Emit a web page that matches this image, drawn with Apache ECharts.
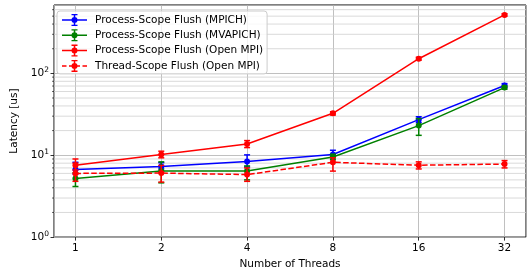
<!DOCTYPE html>
<html>
<head>
<meta charset="utf-8">
<script src="https://cdn.jsdelivr.net/npm/echarts@6/dist/echarts.min.js"></script>
<style>
html, body { margin: 0; padding: 0; background: #fff; }
#chart { width: 531px; height: 275px; }
</style>
</head>
<body>
<div id="chart"></div>
<script>
// data
var threads = [1, 2, 4, 8, 16, 32];

var mpich     = [6.7, 7.3, 8.4, 10.2, 27.2, 71];
var mpichLow  = [5.9, 6.8, 7.2, 9.3, 25.0, 67];
var mpichHigh = [8.2, 8.1, 10.1, 11.5, 29.5, 75];

var mvapich     = [5.2, 6.4, 6.4, 9.5, 23.0, 67];
var mvapichLow  = [4.15, 4.6, 5.0, 8.8, 17.5, 64];
var mvapichHigh = [6.1, 8.3, 7.4, 10.3, 28.0, 70];

var ompiProc     = [7.55, 10.2, 13.7, 32.5, 151, 517];
var ompiProcLow  = [6.6, 9.3, 12.4, 31.0, 145, 500];
var ompiProcHigh = [9.0, 11.2, 15.1, 34.0, 157, 535];

var ompiThread     = [6.0, 6.05, 5.8, 8.2, 7.55, 7.8];
var ompiThreadLow  = [4.8, 4.7, 4.8, 6.4, 6.8, 7.0];
var ompiThreadHigh = [8.0, 7.5, 7.0, 9.3, 8.3, 8.6];

var names = [
    'Process-Scope Flush (MPICH)',
    'Process-Scope Flush (MVAPICH)',
    'Process-Scope Flush (Open MPI)',
    'Thread-Scope Flush (Open MPI)'
];
var colors = ['#0000ff', '#008000', '#ff0000', '#ff0000'];

var yMin = 1, yMax = 684;
var xMin = Math.pow(2, -0.25), xMax = Math.pow(2, 5.25);

// matplotlib style minor grid on the log y axis
var minorTicks = [2, 3, 4, 5, 6, 7, 8, 9, 20, 30, 40, 50, 60, 70, 80, 90, 200, 300, 400, 500, 600];

var font = 'DejaVu Sans';
var fs = 10.5;

// legend glyphs: line + error bar + marker (25 x 12 box)
var barGlyph = 'M11.75 1 H13.25 V11 H11.75 Z M9.5 0 H15.5 V1.3 H9.5 Z M9.5 10.7 H15.5 V12 H9.5 Z ' +
    'M9.5 6 A3 3 0 1 1 15.5 6 A3 3 0 1 1 9.5 6 Z';
var solidIcon = 'path://M0 5.25 H25 V6.75 H0 Z ' + barGlyph;
var dashIcon = 'path://M0 5.25 H4.5 V6.75 H0 Z M7 5.25 H18 V6.75 H7 Z M20.5 5.25 H25 V6.75 H20.5 Z ' + barGlyph;

function pairs(ys) {
    return threads.map(function(t, i) { return [t, ys[i]]; });
}

function bars(lo, hi) {
    return threads.map(function(t, i) { return [t, lo[i], hi[i]]; });
}

function errorBar(color) {
    return function(params, api) {
        var x = api.value(0);
        var lo = api.coord([x, api.value(1)]);
        var hi = api.coord([x, api.value(2)]);
        var cap = 3;
        var st = { stroke: color, lineWidth: 1.5 };
        return {
            type: 'group',
            children: [
                { type: 'line', shape: { x1: lo[0], y1: lo[1], x2: hi[0], y2: hi[1] }, style: st },
                { type: 'line', shape: { x1: lo[0] - cap, y1: lo[1], x2: lo[0] + cap, y2: lo[1] }, style: st },
                { type: 'line', shape: { x1: hi[0] - cap, y1: hi[1], x2: hi[0] + cap, y2: hi[1] }, style: st }
            ]
        };
    };
}

function minorGrid(params, api) {
    var cs = params.coordSys;
    var y = api.coord([threads[0], api.value(1)])[1];
    return {
        type: 'group',
        children: [
            { type: 'line', shape: { x1: cs.x, y1: y, x2: cs.x + cs.width, y2: y },
              style: { stroke: '#d0d0d0', lineWidth: 0.8 } },
            { type: 'line', shape: { x1: cs.x - 2, y1: y, x2: cs.x, y2: y },
              style: { stroke: '#000', lineWidth: 0.6 } }
        ]
    };
}

var series = [{
    type: 'custom',
    name: 'minor',
    renderItem: minorGrid,
    data: minorTicks.map(function(v) { return [threads[0], v]; }),
    encode: { x: 0, y: 1 },
    silent: true,
    z: 0
}];

var lines = [mpich, mvapich, ompiProc, ompiThread];
var lows = [mpichLow, mvapichLow, ompiProcLow, ompiThreadLow];
var highs = [mpichHigh, mvapichHigh, ompiProcHigh, ompiThreadHigh];

lines.forEach(function(ys, k) {
    series.push({
        type: 'line',
        name: names[k],
        data: pairs(ys),
        symbol: 'circle',
        symbolSize: 6,
        showAllSymbol: true,
        itemStyle: { color: colors[k] },
        lineStyle: { color: colors[k], width: 1.5, type: k === 3 ? [5.5, 2.4] : 'solid' },
        z: 3 + k
    });
    series.push({
        type: 'custom',
        name: 'err' + k,
        renderItem: errorBar(colors[k]),
        data: bars(lows[k], highs[k]),
        encode: { x: 0, y: [1, 2] },
        z: 3 + k
    });
});

var chart = echarts.init(document.getElementById('chart'), null, { renderer: 'canvas' });

chart.setOption({
    backgroundColor: '#fff',
    animation: false,
    textStyle: { fontFamily: font },
    grid: {
        left: 54, right: 5, top: 5, bottom: 36,
        show: true, borderColor: '#000', borderWidth: 1, backgroundColor: 'transparent'
    },
    legend: {
        data: names.map(function(n, k) {
            return { name: n, icon: k === 3 ? dashIcon : solidIcon };
        }),
        orient: 'vertical',
        left: 57, top: 11,
        padding: [3, 4, 2, 5],
        itemWidth: 25, itemHeight: 12, itemGap: 3.3,
        itemStyle: { borderWidth: 0 },
        backgroundColor: 'rgba(255,255,255,0.8)',
        borderColor: '#cccccc', borderWidth: 1, borderRadius: 3,
        textStyle: { fontFamily: font, fontSize: fs, color: '#000', padding: [0, 0, 0, 3] }
    },
    xAxis: {
        type: 'log',
        logBase: 2,
        min: xMin, max: xMax,
        name: 'Number of Threads',
        nameLocation: 'middle',
        nameGap: 20,
        nameTextStyle: { fontFamily: font, fontSize: fs, color: '#000' },
        axisLine: { show: false },
        axisTick: { show: true, length: 3.5, lineStyle: { color: '#000', width: 0.8 } },
        axisLabel: {
            fontFamily: font, fontSize: fs, color: '#000', margin: 6,
            showMinLabel: false, showMaxLabel: false,
            formatter: function(v) {
                var e = Math.log2(v);
                return Math.abs(e - Math.round(e)) < 1e-6 ? String(Math.round(v)) : '';
            }
        },
        splitLine: { show: true, lineStyle: { color: '#b0b0b0', width: 0.8 } }
    },
    yAxis: {
        type: 'log',
        logBase: 10,
        min: yMin, max: yMax,
        name: 'Latency [us]',
        nameLocation: 'middle',
        nameGap: 26,
        nameTextStyle: { fontFamily: font, fontSize: fs, color: '#000' },
        axisLine: { show: false },
        axisTick: { show: true, length: 3.5, lineStyle: { color: '#000', width: 0.8 } },
        axisLabel: {
            fontFamily: font, fontSize: fs, color: '#000', margin: 5,
            showMaxLabel: false,
            formatter: function(v) {
                var e = Math.log10(v);
                if (Math.abs(e - Math.round(e)) > 1e-6) return '';
                return '10{sup|' + Math.round(e) + '}';
            },
            rich: {
                sup: { fontFamily: font, fontSize: 7.5, color: '#000', verticalAlign: 'top', padding: [0, 0, 6, 0] }
            }
        },
        splitLine: { show: true, lineStyle: { color: '#b0b0b0', width: 0.8 } }
    },
    series: series
});
</script>
</body>
</html>
